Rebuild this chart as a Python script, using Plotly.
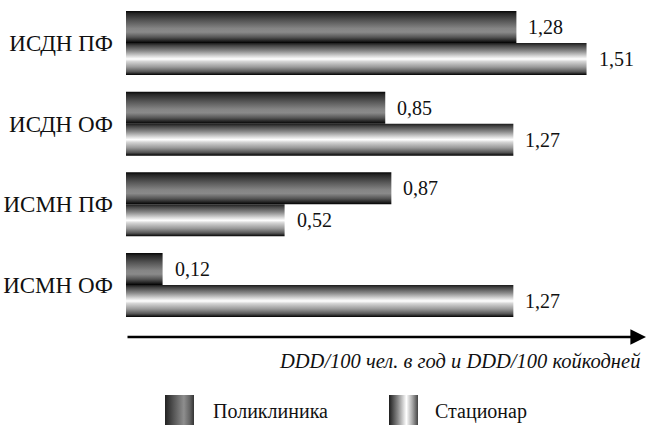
import plotly.graph_objects as go

# ---- data ----
categories = ["ИСДН ПФ", "ИСДН ОФ", "ИСМН ПФ", "ИСМН ОФ"]
series_names = ["Поликлиника", "Стационар"]
polyclinic = [1.28, 0.85, 0.87, 0.12]
hospital = [1.51, 1.27, 0.52, 1.27]
axis_title = "DDD/100 чел. в год и DDD/100 койкодней"

# ---- styles ----
FONT = "Liberation Serif"
W, H = 649, 425
# vertical gradients, listed top -> bottom
grad_poly_tb = [(0.0, "#050505"), (0.08, "#262626"), (0.3, "#555555"), (0.55, "#858585"),
                (0.66, "#8a8a8a"), (0.82, "#555555"), (0.94, "#1e1e1e"), (1.0, "#000000")]
grad_hosp_tb = [(0.0, "#1a1a1a"), (0.08, "#444444"), (0.25, "#8a8a8a"), (0.42, "#dcdcdc"),
                (0.5, "#ffffff"), (0.58, "#d4d4d4"), (0.75, "#9a9a9a"), (0.9, "#555555"),
                (0.96, "#222222"), (1.0, "#000000")]
# horizontal gradients for legend swatches (left -> right)
grad_poly_lr = [(0.0, "#222222"), (0.3, "#555555"), (0.65, "#8e8e8e"), (0.85, "#666666"), (1.0, "#333333")]
grad_hosp_lr = [(0.0, "#1e1e1e"), (0.3, "#888888"), (0.6, "#ffffff"), (0.8, "#aaaaaa"), (1.0, "#444444")]


def flip(cs):
    # convert top->bottom list to bottom->top colorscale
    return [[round(1 - p, 4), c] for p, c in reversed(cs)]


HB = 0.397  # bar thickness in category units
centers = [len(categories) - 1 - i for i in range(len(categories))]

fig = go.Figure()

for i, cat in enumerate(categories):
    c = centers[i]
    for v, y0, y1, cs, name in [
        (polyclinic[i], c, c + HB, grad_poly_tb, series_names[0]),
        (hospital[i], c - HB, c, grad_hosp_tb, series_names[1]),
    ]:
        fig.add_trace(go.Scatter(
            x=[0, v, v, 0, 0], y=[y0, y0, y1, y1, y0],
            mode="lines", fill="toself",
            fillgradient=dict(type="vertical", colorscale=flip(cs)),
            line=dict(width=0, color="rgba(0,0,0,0)"),
            hoverinfo="skip", showlegend=False, name=name,
        ))
        fig.add_annotation(
            x=v, y=(y0 + y1) / 2, xref="x", yref="y",
            text=f"{v:.2f}".replace(".", ","), showarrow=False,
            xanchor="left", xshift=10, font=dict(family=FONT, size=20, color="#111"),
        )

# ---- legend (drawn on hidden auxiliary pixel-like axes) ----
legend_items = [
    (series_names[0], grad_poly_lr, 165, 194, 211),
    (series_names[1], grad_hosp_lr, 389, 418, 433),
]
for name, cs, x0, x1, tx in legend_items:
    fig.add_trace(go.Scatter(
        x=[x0, x1, x1, x0, x0], y=[395, 395, 425, 425, 395],
        xaxis="x2", yaxis="y2", mode="lines", fill="toself",
        fillgradient=dict(type="horizontal", colorscale=[[p, c] for p, c in cs]),
        line=dict(width=0, color="rgba(0,0,0,0)"),
        hoverinfo="skip", showlegend=False,
    ))
    fig.add_annotation(
        x=tx, y=411, xref="x2", yref="y2", text=name, showarrow=False,
        xanchor="left", yanchor="middle", font=dict(family=FONT, size=20, color="#111"),
    )

# ---- axis arrow and title ----
x_left, x_right = 126, 646
y_axis_px = 337
fig.add_annotation(
    x=x_right, y=y_axis_px, ax=x_left, ay=y_axis_px,
    xref="x2", yref="y2", axref="x2", ayref="y2",
    text="", showarrow=True, arrowhead=2, arrowsize=1.3, arrowwidth=2.4,
    arrowcolor="#000", standoff=0, startstandoff=0,
)
fig.add_annotation(
    x=643, y=361, xref="x2", yref="y2",
    text=f"<i>{axis_title}</i>", showarrow=False, xanchor="right", yanchor="middle",
    font=dict(family=FONT, size=20.5, color="#111"),
)

px_per_unit = 305.0
px_per_cat = 80.67
top_y = centers[0] + 43 / px_per_cat
bot_y = centers[-1] - (y_axis_px - 285) / px_per_cat

fig.update_layout(
    width=W, height=H, margin=dict(l=0, r=0, t=0, b=0),
    paper_bgcolor="white", plot_bgcolor="rgba(0,0,0,0)",
    font=dict(family=FONT, size=19, color="#111"),
    showlegend=False,
    xaxis=dict(domain=[x_left / W, x_right / W], range=[0, (x_right - x_left) / px_per_unit],
               showgrid=False, zeroline=False, showline=False, showticklabels=False, fixedrange=True),
    yaxis=dict(domain=[1 - y_axis_px / H, 1], range=[bot_y, top_y],
               tickvals=centers, ticktext=categories, ticks="", ticklabelstandoff=12,
               showgrid=False, zeroline=False, showline=False,
               tickfont=dict(family=FONT, size=23, color="#111"), fixedrange=True),
    xaxis2=dict(domain=[0, 1], range=[0, W], visible=False, fixedrange=True, anchor="y2"),
    yaxis2=dict(domain=[0, 1], range=[H, 0], visible=False, fixedrange=True, anchor="x2"),
)

fig.write_html("out.html", config={"displayModeBar": False},
               post_script="document.body.style.margin='0px';document.body.style.overflow='hidden';")
